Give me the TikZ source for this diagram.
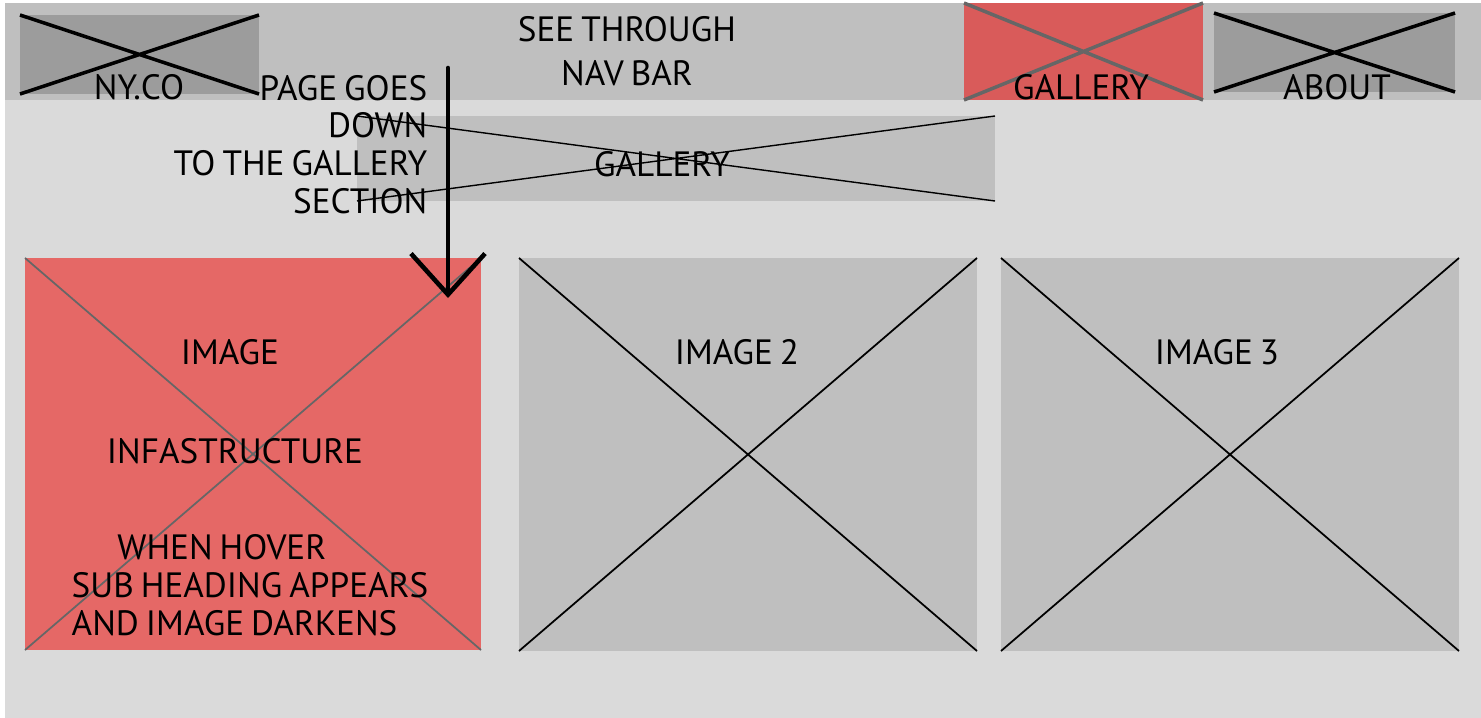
\documentclass[tikz,border=0pt]{standalone}
\usepackage{fontspec}
\setmainfont{PT Sans}[WordSpace=0.75]
\usetikzlibrary{arrows.meta}
\definecolor{pagebg}{HTML}{DADADA}
\definecolor{navgray}{HTML}{BFBFBF}
\definecolor{btngray}{HTML}{9C9C9C}
\definecolor{navred}{HTML}{D95B5A}
\definecolor{imgred}{HTML}{E56866}
\definecolor{redline}{HTML}{666666}
\tikzset{
  lbl/.style={font=\fontsize{10}{10.7}\selectfont, inner sep=0pt, anchor=base},
  cross/.style={line width=0.5pt, black},
  navcross/.style={line width=1pt, black},
}

\begin{document}
\begin{tikzpicture}[x=0.01cm, y=-0.01cm, >={Straight Barb[length=4.1mm, width=7.4mm]}]
  \useasboundingbox (0,0) rectangle (1481,718);
  % Page and nav bar
  \fill[pagebg] (5,3) rectangle (1481,718);
  \fill[navgray] (5,3) rectangle (1481,100);

  % Logo
  \coordinate (logoA) at (20,15);
  \coordinate (logoB) at (259,94);
  \fill[btngray] (logoA) rectangle (logoB);
  \draw[navcross] (logoA) -- (logoB) (logoA |- logoB) -- (logoA -| logoB);
  \node[lbl] (logo) at (139,100) {NY.CO};

  % last line sets the base of a multi-line node
  \node[lbl, align=center, font=\fontsize{10}{12.5}\selectfont] (seethru) at (627,85) {SEE THROUGH\\NAV BAR};

  % Gallery button (active)
  \coordinate (galA) at (964,3);
  \coordinate (galB) at (1203,100);
  \fill[navred] (galA) rectangle (galB);
  \draw[navcross, redline] (galA) -- (galB) (galA |- galB) -- (galA -| galB);
  \node[lbl] (galbtn) at (1081,100) {GALLERY};

  % About button
  \coordinate (aboutA) at (1214,13);
  \coordinate (aboutB) at (1455,92);
  \fill[btngray] (aboutA) rectangle (aboutB);
  \draw[navcross] (aboutA) -- (aboutB) (aboutA |- aboutB) -- (aboutA -| aboutB);
  \node[lbl] (about) at (1337,100) {ABOUT};

  % Gallery heading
  \coordinate (headA) at (357,116);
  \coordinate (headB) at (995,201);
  \fill[navgray] (headA) rectangle (headB);
  \draw[cross, thin] (headA) -- (headB) (headA |- headB) -- (headA -| headB);
  \node[lbl] (head) at (662,176) {GALLERY};

  % Images
  \coordinate (imgA) at (25,258);
  \coordinate (imgB) at (481,650);
  \fill[imgred] (imgA) rectangle (imgB);
  \draw[cross, redline] (imgA) -- (imgB) (imgA |- imgB) -- (imgA -| imgB);
  \node[lbl] (img) at (230,364) {IMAGE};
  \node[lbl] (infra) at (235,463) {INFASTRUCTURE};
  \node[lbl, anchor=base west, align=left] (hover) at (71,635) {\hspace{13pt}WHEN HOVER\\SUB HEADING APPEARS\\AND IMAGE DARKENS};

  \coordinate (imgtwoA) at (519,258);
  \coordinate (imgtwoB) at (977,651);
  \fill[navgray] (imgtwoA) rectangle (imgtwoB);
  \draw[cross] (imgtwoA) -- (imgtwoB) (imgtwoA |- imgtwoB) -- (imgtwoA -| imgtwoB);
  \node[lbl] (imgtwo) at (737,364) {IMAGE 2};

  \coordinate (imgthreeA) at (1001,258);
  \coordinate (imgthreeB) at (1459,651);
  \fill[navgray] (imgthreeA) rectangle (imgthreeB);
  \draw[cross] (imgthreeA) -- (imgthreeB) (imgthreeA |- imgthreeB) -- (imgthreeA -| imgthreeB);
  \node[lbl] (imgthree) at (1217,364) {IMAGE 3};

  % Scroll note
  \node[lbl, anchor=base east, align=right] (note) at (428,213) {PAGE GOES\\DOWN\\TO THE GALLERY\\SECTION};
  \coordinate (arrtop) at (448,68);
  \coordinate (arrtip) at (448,298);
  \draw[->, line width=1.3pt, line cap=round] (arrtop) -- (arrtip);
\end{tikzpicture}
\end{document}
